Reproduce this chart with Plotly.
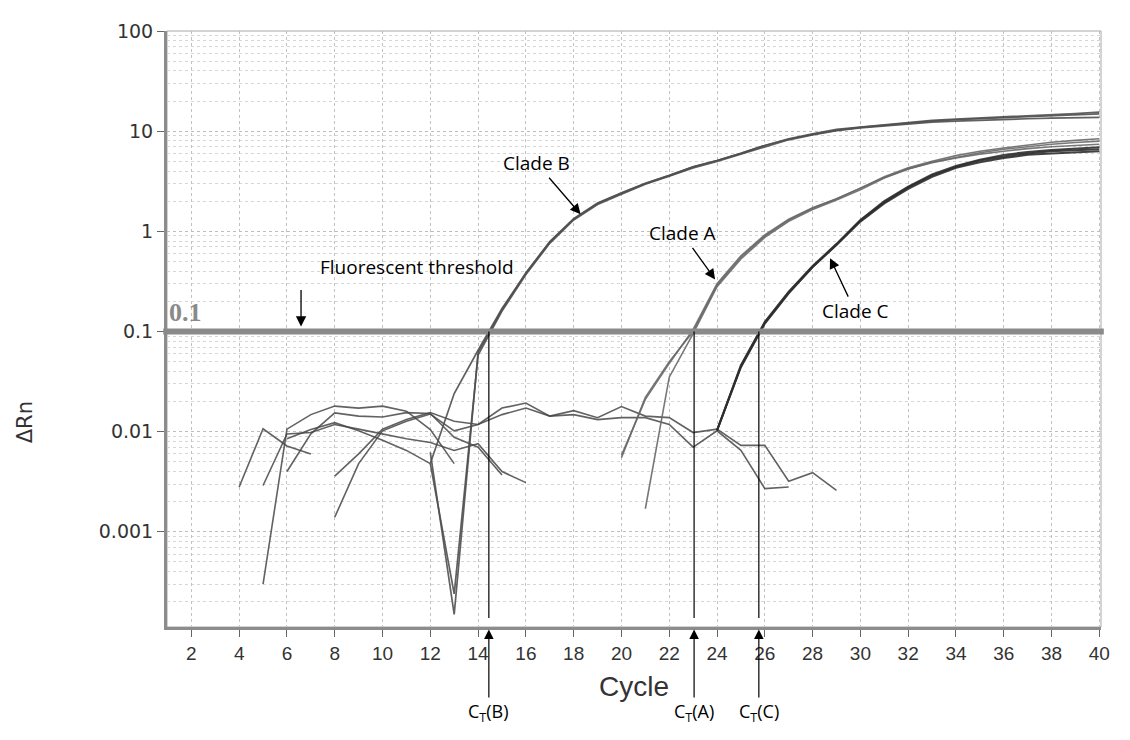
import math
import plotly.graph_objects as go

# ---------------- data ----------------
x_ticks = list(range(2, 41, 2))
y_ticks = [0.001, 0.01, 0.1, 1, 10, 100]
y_ticktext = ["0.001", "0.01", "0.1", "1", "10", "100"]

threshold = 0.1
ct_b = 14.45
ct_a = 23.04
ct_c = 25.75

# Clade B amplification curves (cycles 12..40)
cycles_b = list(range(12, 41))
clade_b_1 = [0.0048, 0.024, 0.065, 0.17, 0.38, 0.78, 1.32, 1.9, 2.4, 3.0, 3.6, 4.4, 5.1, 6.0, 7.2,
             8.4, 9.4, 10.4, 11.0, 11.6, 12.2, 12.8, 13.2, 13.5, 13.8, 14.2, 14.6, 15.0, 15.5]
clade_b_2 = [0.0048, 0.00024, 0.058, 0.16, 0.37, 0.76, 1.3, 1.85, 2.35, 2.95, 3.55, 4.3, 5.0, 5.9, 7.0,
             8.2, 9.2, 10.1, 10.8, 11.3, 11.8, 12.3, 12.6, 12.9, 13.1, 13.3, 13.5, 13.6, 13.7]
clade_b_3 = [0.0062, 0.00015, 0.062, 0.165, 0.385, 0.79, 1.34, 1.92, 2.42, 3.02, 3.62, 4.4, 5.1, 6.0, 7.2,
             8.3, 9.3, 10.2, 10.9, 11.5, 12.1, 12.6, 13.0, 13.3, 13.6, 14.0, 14.3, 14.6, 14.9]
# baseline leading into Clade B curve 1 (cycles 6..12)
cycles_b_lead = list(range(6, 13))
clade_b_lead = [0.0085, 0.0105, 0.0123, 0.0102, 0.0082, 0.0065, 0.0048]

# Clade A amplification curves (cycles 20..40)
cycles_a = list(range(20, 41))
clade_a_1 = [0.0055, 0.022, 0.05, 0.1, 0.29, 0.55, 0.9, 1.3, 1.7, 2.1, 2.7, 3.5, 4.3, 5.0, 5.7,
             6.3, 6.8, 7.3, 7.75, 8.1, 8.4]
clade_a_2 = [None, 0.0017, 0.035, 0.095, 0.28, 0.53, 0.87, 1.26, 1.65, 2.05, 2.6, 3.4, 4.2, 4.9, 5.5,
             6.1, 6.6, 7.0, 7.4, 7.7, 7.95]
clade_a_3 = [0.0058, 0.021, 0.048, 0.105, 0.3, 0.57, 0.92, 1.32, 1.72, 2.12, 2.7, 3.45, 4.2, 4.85, 5.4,
             5.9, 6.3, 6.7, 7.0, 7.2, 7.4]

# Clade C amplification curves (cycles 24..40)
cycles_c = list(range(24, 41))
clade_c_1 = [0.0103, 0.046, 0.125, 0.25, 0.45, 0.75, 1.3, 2.0, 2.8, 3.7, 4.5, 5.2, 5.8, 6.2, 6.5, 6.7, 6.9]
clade_c_2 = [0.0103, 0.044, 0.12, 0.24, 0.44, 0.74, 1.28, 1.95, 2.75, 3.6, 4.4, 5.1, 5.6, 6.0, 6.3, 6.5, 6.6]
clade_c_3 = [0.0103, 0.045, 0.122, 0.245, 0.44, 0.73, 1.25, 1.9, 2.65, 3.5, 4.3, 4.9, 5.4, 5.8, 6.0, 6.2, 6.3]

# background noise segments
cycles_n1 = list(range(4, 8))
noise_1 = [0.0028, 0.0107, 0.0072, 0.006]
cycles_n2 = list(range(5, 17))
noise_2 = [0.0029, 0.0095, 0.0098, 0.0118, 0.0106, 0.0095, 0.0085, 0.0078, 0.0065, 0.0076, 0.004, 0.0031]
cycles_n3 = list(range(5, 14))
noise_3 = [0.0003, 0.0106, 0.0148, 0.018, 0.0172, 0.018, 0.016, 0.0105, 0.0048]
cycles_n4 = list(range(6, 16))
noise_4 = [0.004, 0.0095, 0.0154, 0.0143, 0.014, 0.0155, 0.0152, 0.0088, 0.007, 0.0037]
cycles_n5 = list(range(8, 30))
noise_5 = [0.0036, 0.006, 0.0106, 0.0132, 0.0155, 0.0127, 0.0118, 0.0148, 0.0172, 0.0143, 0.0162,
           0.0138, 0.0178, 0.0143, 0.0138, 0.0098, 0.0106, 0.0073, 0.0073, 0.0032, 0.0039, 0.0026]
cycles_n6 = list(range(8, 28))
noise_6 = [0.0014, 0.0048, 0.0102, 0.0127, 0.015, 0.0102, 0.0118, 0.0172, 0.0193, 0.0143, 0.0148,
           0.0132, 0.0138, 0.0138, 0.0118, 0.007, 0.0102, 0.0065, 0.0027, 0.0028]

# ---------------- figure ----------------
X_RANGE = [0.98, 40.07]
Y_RANGE = [-3.95, 2.0]   # log10 units


def ypaper(v):
    return (math.log10(v) - Y_RANGE[0]) / (Y_RANGE[1] - Y_RANGE[0])


fig = go.Figure()


def add_line(xs, ys, color, width):
    fig.add_trace(go.Scatter(x=xs, y=ys, mode="lines", line=dict(color=color, width=width),
                             connectgaps=False, showlegend=False, hoverinfo="skip"))


noise_col = "rgba(70,70,70,0.85)"
for xs, ys in [(cycles_n1, noise_1), (cycles_n2, noise_2), (cycles_n3, noise_3),
               (cycles_n4, noise_4), (cycles_n5, noise_5), (cycles_n6, noise_6)]:
    add_line(xs, ys, noise_col, 1.6)

add_line(cycles_b_lead, clade_b_lead, noise_col, 1.6)
for ys in (clade_b_1, clade_b_2, clade_b_3):
    add_line(cycles_b, ys, "rgba(80,80,80,0.9)", 1.7)
for ys in (clade_a_1, clade_a_2, clade_a_3):
    add_line(cycles_a, ys, "rgba(105,105,105,0.9)", 1.6)
for ys in (clade_c_1, clade_c_2, clade_c_3):
    add_line(cycles_c, ys, "rgba(45,45,45,0.9)", 2.0)

minor_vals = [k * 10 ** e for e in range(-4, 2) for k in range(2, 10)]

tick_font_x = dict(family="Liberation Sans Narrow, Arial Narrow, Liberation Sans, Arial", size=19, color="#333")
tick_font_y = dict(family="DejaVu Sans, Liberation Sans, Arial", size=19, color="#333")

fig.update_layout(
    width=1114, height=724,
    margin=dict(l=159, r=12, t=12, b=105),
    paper_bgcolor="white", plot_bgcolor="white",
    showlegend=False,
)
fig.update_xaxes(
    range=X_RANGE, tickmode="array", tickvals=x_ticks, ticktext=[str(t) for t in x_ticks],
    showgrid=True, gridcolor="#c2c2c2", griddash="dot", gridwidth=1,
    showline=True, linecolor="#8c8c8c", linewidth=3,
    ticks="outside", ticklen=7, tickcolor="#666", tickwidth=1,
    tickfont=tick_font_x, zeroline=False,
)
fig.update_yaxes(
    type="log", range=Y_RANGE, tickmode="array", tickvals=y_ticks, ticktext=y_ticktext,
    showgrid=True, gridcolor="#bdbdbd", griddash="dot", gridwidth=1,
    minor=dict(tickmode="array", tickvals=minor_vals, showgrid=True, gridcolor="#d6d6d6",
               griddash="dot", gridwidth=1, ticks=""),
    showline=True, linecolor="#8c8c8c", linewidth=3,
    ticks="outside", ticklen=7, tickcolor="#666", tickwidth=1,
    tickfont=tick_font_y, zeroline=False,
)

# frame on top/right
fig.add_shape(type="rect", xref="paper", yref="paper", x0=0, x1=1, y0=0, y1=1,
              line=dict(color="#a8a8a8", width=1), layer="below")

# threshold line
y_thr = ypaper(threshold)
fig.add_shape(type="line", xref="paper", yref="paper", x0=-0.004, x1=1.003, y0=y_thr, y1=y_thr,
              line=dict(color="#8a8a8a", width=6), layer="above")

# CT vertical lines (threshold down to axis)
for ct in (ct_b, ct_a, ct_c):
    fig.add_shape(type="line", xref="x", yref="paper", x0=ct, x1=ct, y0=y_thr, y1=0.015,
                  line=dict(color="black", width=1.2), layer="above")

text_font = dict(family="Open Sans, Noto Sans, Liberation Sans", size=19, color="black")

# "0.1" label on threshold line
fig.add_annotation(xref="paper", yref="paper", x=0.0, y=y_thr + 0.004, xanchor="left", yanchor="bottom",
                   text="<b>0.1</b>", showarrow=False,
                   font=dict(family="Liberation Serif, DejaVu Serif", size=26, color="#8a8a8a"))

# clade labels with arrows (arrow tip in data coordinates, text offset in pixels)
arrow_kw = dict(showarrow=True, arrowhead=2, arrowsize=1.6, arrowwidth=1.3, arrowcolor="black",
                axref="pixel", ayref="pixel", font=text_font, standoff=0)
fig.add_annotation(x=18.29, y=math.log10(1.48), ax=-44, ay=-51, text="Clade B", **arrow_kw)
fig.add_annotation(x=23.92, y=math.log10(0.331), ax=-33, ay=-46, text="Clade A", **arrow_kw)
fig.add_annotation(x=28.73, y=math.log10(0.54), ax=25, ay=53, text="Clade C", **arrow_kw)

fig.add_annotation(xref="paper", yref="paper", x=0.1614, y=0.6033, text="Fluorescent threshold",
                   showarrow=False, font=text_font)
fig.add_annotation(x=6.59, y=math.log10(0.112), ax=0, ay=-38, text="", showarrow=True, arrowhead=2,
                   arrowsize=1.6, arrowwidth=1.3, arrowcolor="black", axref="pixel", ayref="pixel")

# CT arrows below axis
ct_font = dict(family="Open Sans, Noto Sans, Liberation Sans", size=18, color="black")
for ct, lab in ((ct_b, "C<sub>T</sub>(B)"), (ct_a, "C<sub>T</sub>(A)"), (ct_c, "C<sub>T</sub>(C)")):
    fig.add_annotation(x=ct, xref="x", yref="paper", y=-0.004, text=lab, showarrow=True,
                       arrowhead=2, arrowsize=1.6, arrowwidth=1.2, arrowcolor="black",
                       ax=0, ay=83, font=ct_font, standoff=0)

# axis titles
fig.add_annotation(xref="paper", yref="paper", x=0.5, y=-0.1, yanchor="middle", text="Cycle",
                   showarrow=False,
                   font=dict(family="Liberation Sans Narrow, Arial Narrow, Liberation Sans", size=28, color="#333"))
fig.add_annotation(xref="paper", yref="paper", x=-0.152, xanchor="center", y=0.305, text="ΔRn",
                   textangle=-90, showarrow=False,
                   font=dict(family="DejaVu Sans, Liberation Sans", size=21, color="#333"))

fig.write_html("out.html", config={"displayModeBar": False})
